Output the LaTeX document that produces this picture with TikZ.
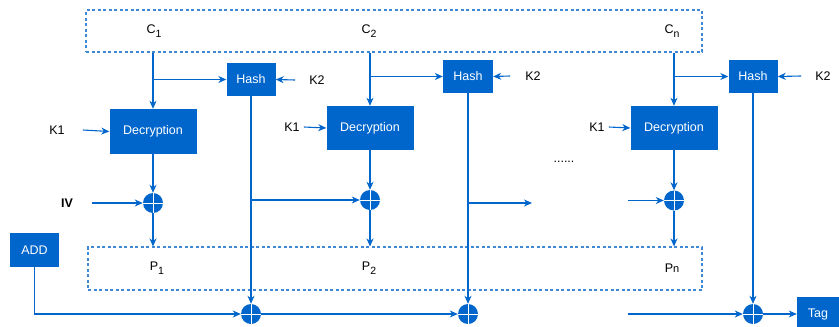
\documentclass[tikz,border=0pt]{standalone}
\usepackage{fontspec}
\setmainfont{Liberation Sans}
\usetikzlibrary{arrows.meta,calc}
\definecolor{bl}{HTML}{0066CC}
\definecolor{dbl}{HTML}{3F89D4}
\newcommand{\mysub}[1]{\raisebox{-3.5pt}{\fontsize{10.5}{12}\selectfont #1}}
\begin{document}
\begin{tikzpicture}[x=1pt,y=-1pt,
  font=\fontsize{12.5}{14}\selectfont,
  conn/.style={draw=bl,line width=1.1pt},
  arr/.style={conn,-{Stealth[length=8pt,width=7pt,inset=2.5pt]}},
  bluebox/.style={draw=none,fill=bl,text=white,inner sep=0pt,minimum width=#1},
  lab/.style={text=black,inner sep=1pt},
  dashbox/.style={draw=dbl,line width=1.1pt,dash pattern=on 3pt off 2.5pt,inner sep=0pt},
  xor/.style={circle,fill=bl,inner sep=0pt,minimum size=20pt,
    path picture={\draw[white,line width=1pt]
      (path picture bounding box.north) -- (path picture bounding box.south)
      (path picture bounding box.west) -- (path picture bounding box.east);}}]
\useasboundingbox (0,0) rectangle (839,327);

% dashed boxes
\node[dashbox,minimum width=616pt,minimum height=42pt] (top) at (394,31) {};
\node[dashbox,minimum width=614pt,minimum height=43pt] (bot) at (395,268.5) {};

% labels
\node[lab] (c1) at (154,31) {C\mysub{1}};
\node[lab] (c2) at (369,31) {C\mysub{2}};
\node[lab] (cn) at (672,31) {C\mysub{n}};
\node[lab] (p1) at (157,268) {P\mysub{1}};
\node[lab] (p2) at (369,268) {P\mysub{2}};
\node[lab] (pn) at (672,268) {P{\fontsize{11}{12}\selectfont n}};
\node[lab] (k2a) at (317,80) {K2};
\node[lab] (k2b) at (533,76) {K2};
\node[lab] (k2c) at (823,76) {K2};
\node[lab] (k1a) at (57,130) {K1};
\node[lab] (k1b) at (292,127) {K1};
\node[lab] (k1c) at (597,127) {K1};
\node[lab,font=\fontsize{12.5}{14}\selectfont\bfseries] (iv) at (67,203) {IV};
\node[lab] (dots) at (564,162) {......};

% boxes
\node[bluebox=49pt,minimum height=33pt] (h1) at (251,79.5) {Hash};
\node[bluebox=50pt,minimum height=33pt] (h2) at (468,76.5) {Hash};
\node[bluebox=49pt,minimum height=33pt] (hn) at (753,76.5) {Hash};
\node[bluebox=87pt,minimum height=45pt] (d1) at (153,131.5) {Decryption};
\node[bluebox=87pt,minimum height=44pt] (d2) at (370,128) {Decryption};
\node[bluebox=87pt,minimum height=44pt] (dn) at (674,128) {Decryption};
\node[bluebox=49pt,minimum height=34pt] (add) at (34.5,250) {ADD};
\node[bluebox=42pt,minimum height=34pt] (tag) at (818,314) {Tag};

% xors
\node[xor] (x1) at (153,203) {};
\node[xor] (x2) at (370,200) {};
\node[xor] (xn) at (674,200.5) {};
\node[xor] (b1) at (251,314) {};
\node[xor] (b2) at (468,314) {};
\node[xor] (bn) at (753,314) {};

\coordinate (g1) at (532,203);
\coordinate (g2) at (628,200.5);
\coordinate (g3) at (628,314);

% column 1
\draw[arr] (top.south -| d1) -- (d1.north);
\draw[arr] (d1.north |- h1.west) -- (h1.west);
\draw[arr] ([xshift=-13pt]k2a.west) -- (h1.east);
\draw[arr] ([xshift=17pt]k1a.east) -- (d1.west);
\draw[arr] (d1.south) -- (x1.north);
\draw[arr] ([xshift=18pt]iv.east) -- (x1.west);
\draw[arr] (x1.south) -- (x1.south |- bot.north);
\draw[arr] (h1.south) -- (b1.north);
\draw[arr] (h1.south |- x2) -- (x2.west);

% column 2
\draw[arr] (top.south -| d2) -- (d2.north);
\draw[arr] (d2.north |- h2.west) -- (h2.west);
\draw[arr] ([xshift=-14pt]k2b.west) -- (h2.east);
\draw[arr] ([xshift=3pt]k1b.east) -- (d2.west);
\draw[arr] (d2.south) -- (x2.north);
\draw[arr] (x2.south) -- (x2.south |- bot.north);
\draw[arr] (h2.south) -- (b2.north);
\draw[arr] (h2.south |- g1) -- (g1);

% column n
\draw[arr] (top.south -| dn) -- (dn.north);
\draw[arr] (dn.north |- hn.west) -- (hn.west);
\draw[arr] ([xshift=-13pt]k2c.west) -- (hn.east);
\draw[arr] ([xshift=3pt]k1c.east) -- (dn.west);
\draw[arr] (g2) -- (xn.west);
\draw[arr] (dn.south) -- (xn.north);
\draw[arr] (xn.south) -- (xn.south |- bot.north);
\draw[arr] (hn.south) -- (bn.north);

% bottom chain
\draw[arr] (add.south) |- (b1.west);
\draw[arr] (b1.east) -- (b2.west);
\draw[arr] (g3) -- (bn.west);
\draw[arr] (bn.east) -- (tag.west);
\end{tikzpicture}
\end{document}
